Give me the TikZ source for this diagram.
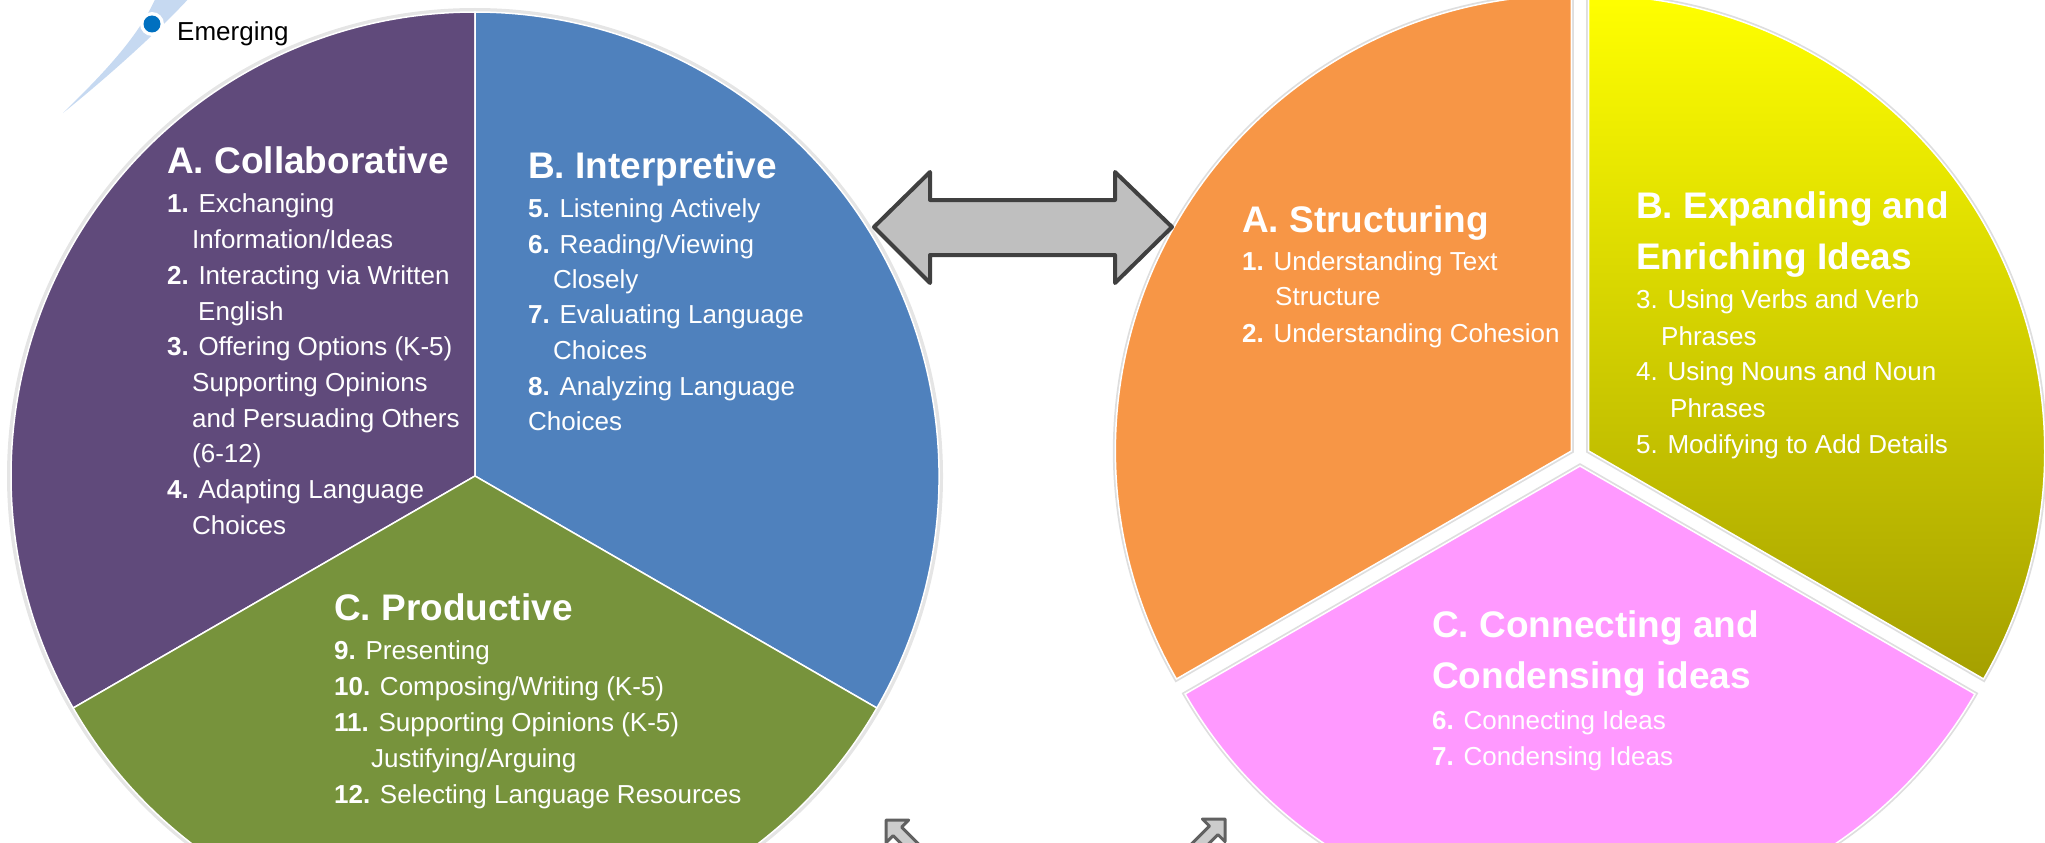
\documentclass[tikz,border=0pt]{standalone}
\usepackage{fontspec}
\setmainfont{Liberation Sans}
\usetikzlibrary{calc}

\definecolor{collabpurple}{HTML}{604A7B}
\definecolor{interpblue}{HTML}{4F81BD}
\definecolor{prodgreen}{HTML}{77933C}
\definecolor{structorange}{HTML}{F79646}
\definecolor{connpink}{HTML}{FF99FF}
\definecolor{enrichtop}{RGB}{255,255,0}
\definecolor{enrichbottom}{RGB}{165,160,0}
\definecolor{arcblue}{HTML}{C6D9F1}
\definecolor{dotblue}{HTML}{0070C0}
\definecolor{arrowgray}{HTML}{BFBFBF}
\definecolor{arrowline}{HTML}{404040}

\begin{document}
\begin{tikzpicture}[x=1pt, y=1pt,
  heading/.style={anchor=base west, inner sep=0, text=white, font=\fontsize{37}{40}\selectfont\bfseries},
  item/.style={anchor=base west, inner sep=0, text=white, font=\fontsize{26}{30}\selectfont},
  halo/.style={draw=black!13, line width=5},
  slice/.style={draw=white, line width=1.5},
  sliceA/.style={fill=structorange},
  sliceB/.style={top color=enrichtop, bottom color=enrichbottom},
  sliceC/.style={fill=connpink}]

\useasboundingbox (0,-843) rectangle (2045,0);
\clip (0,-843) rectangle (2045,0);

% emerging marker
\fill[arcblue] (63,-113) .. controls (105,-72) and (140,-35) .. (157,5) -- (192,5) .. controls (160,-30) and (110,-75) .. (63,-113) -- cycle;
\fill[white] (152,-24) circle[radius=12];
\fill[dotblue] (152,-24) circle[radius=8.5];
\node[anchor=base west, inner sep=0, font=\fontsize{26}{30}\selectfont] (emerging) at (177,-41) {Emerging};

% left wheel
\coordinate (L) at (475,-476);
\fill[black!10] (L) circle[radius=468];
\foreach \a/\b/\c in {90/210/collabpurple, -30/90/interpblue, 210/330/prodgreen}
  \filldraw[slice, fill=\c] (L) -- ++(\a:464) arc[start angle=\a, end angle=\b, radius=464] -- cycle;

% right wheel, pulled apart
\coordinate (R) at (1580,-456);
\foreach \a/\b/\d/\s in {90/210/150/sliceA, -30/90/30/sliceB, 210/330/270/sliceC} {
  \draw[halo] ($(R)+(\d:10)$) -- ++(\a:456) arc[start angle=\a, end angle=\b, radius=456] -- cycle;
  \path[slice, \s] ($(R)+(\d:10)$) -- ++(\a:456) arc[start angle=\a, end angle=\b, radius=456] -- cycle;
}

% arrows
\filldraw[fill=arrowgray, draw=arrowline, line width=4, line join=round]
  (874,-227) -- (930,-172) -- (930,-200) -- (1115,-200) -- (1115,-172) -- (1172,-227)
  -- (1115,-283) -- (1115,-255) -- (930,-255) -- (930,-283) -- cycle;
\foreach \x/\y/\a in {886/-820/135, 1225/-819/45}
  \filldraw[fill=black!20, draw=black!62, line width=3, line join=round, shift={(\x,\y)}, rotate=\a]
    (0,0) -- (-16,16) -- (-16,6) -- (-70,6) -- (-70,-6) -- (-16,-6) -- (-16,-16) -- cycle;

% headings
\node[heading] (collab) at (167,-173) {A. Collaborative};
\node[heading] (interp) at (528,-178) {B. Interpretive};
\node[heading] (prod) at (334,-620) {C. Productive};
\node[heading] (struct) at (1242,-232) {A. Structuring};
\node[heading] (enrich) at (1636,-218) {B. Expanding and};
\node[heading] (enrich 2) at (1636,-269) {Enriching Ideas};
\node[heading] (conn) at (1432,-637) {C. Connecting and};
\node[heading] (conn 2) at (1432,-688) {Condensing ideas};

% items
\foreach \x/\y/\t [count=\i] in {167/212/{\textbf{1.} Exchanging}, 192/248/{Information/Ideas},
  167/284/{\textbf{2.} Interacting via Written}, 198/320/{English},
  167/355/{\textbf{3.} Offering Options (K-5)}, 192/391/{Supporting Opinions},
  192/427/{and Persuading Others}, 192/462/{(6-12)},
  167/498/{\textbf{4.} Adapting Language}, 192/534/{Choices}}
  \node[item] (collab \i) at (\x,-\y) {\t};

\foreach \x/\y/\t [count=\i] in {528/217/{\textbf{5.} Listening Actively}, 528/253/{\textbf{6.} Reading/Viewing},
  553/288/{Closely}, 528/323/{\textbf{7.} Evaluating Language}, 553/359/{Choices},
  528/395/{\textbf{8.} Analyzing Language}, 528/430/{Choices}}
  \node[item] (interp \i) at (\x,-\y) {\t};

\foreach \x/\y/\t [count=\i] in {334/659/{\textbf{9.} Presenting}, 334/695/{\textbf{10.} Composing/Writing (K-5)},
  334/731/{\textbf{11.} Supporting Opinions (K-5)}, 371/767/{Justifying/Arguing},
  334/803/{\textbf{12.} Selecting Language Resources}}
  \node[item] (prod \i) at (\x,-\y) {\t};

\foreach \x/\y/\t [count=\i] in {1242/270/{\textbf{1.} Understanding Text}, 1275/305/{Structure},
  1242/342/{\textbf{2.} Understanding Cohesion}}
  \node[item] (struct \i) at (\x,-\y) {\t};

\foreach \x/\y/\t [count=\i] in {1636/308/{3. Using Verbs and Verb}, 1661/345/{Phrases},
  1636/380/{4. Using Nouns and Noun}, 1670/417/{Phrases}, 1636/453/{5. Modifying to Add Details}}
  \node[item] (enrich \i) at (\x,-\y) {\t};

\foreach \x/\y/\t [count=\i] in {1432/729/{\textbf{6.} Connecting Ideas}, 1432/765/{\textbf{7.} Condensing Ideas}}
  \node[item] (conn \i) at (\x,-\y) {\t};

\end{tikzpicture}
\end{document}
